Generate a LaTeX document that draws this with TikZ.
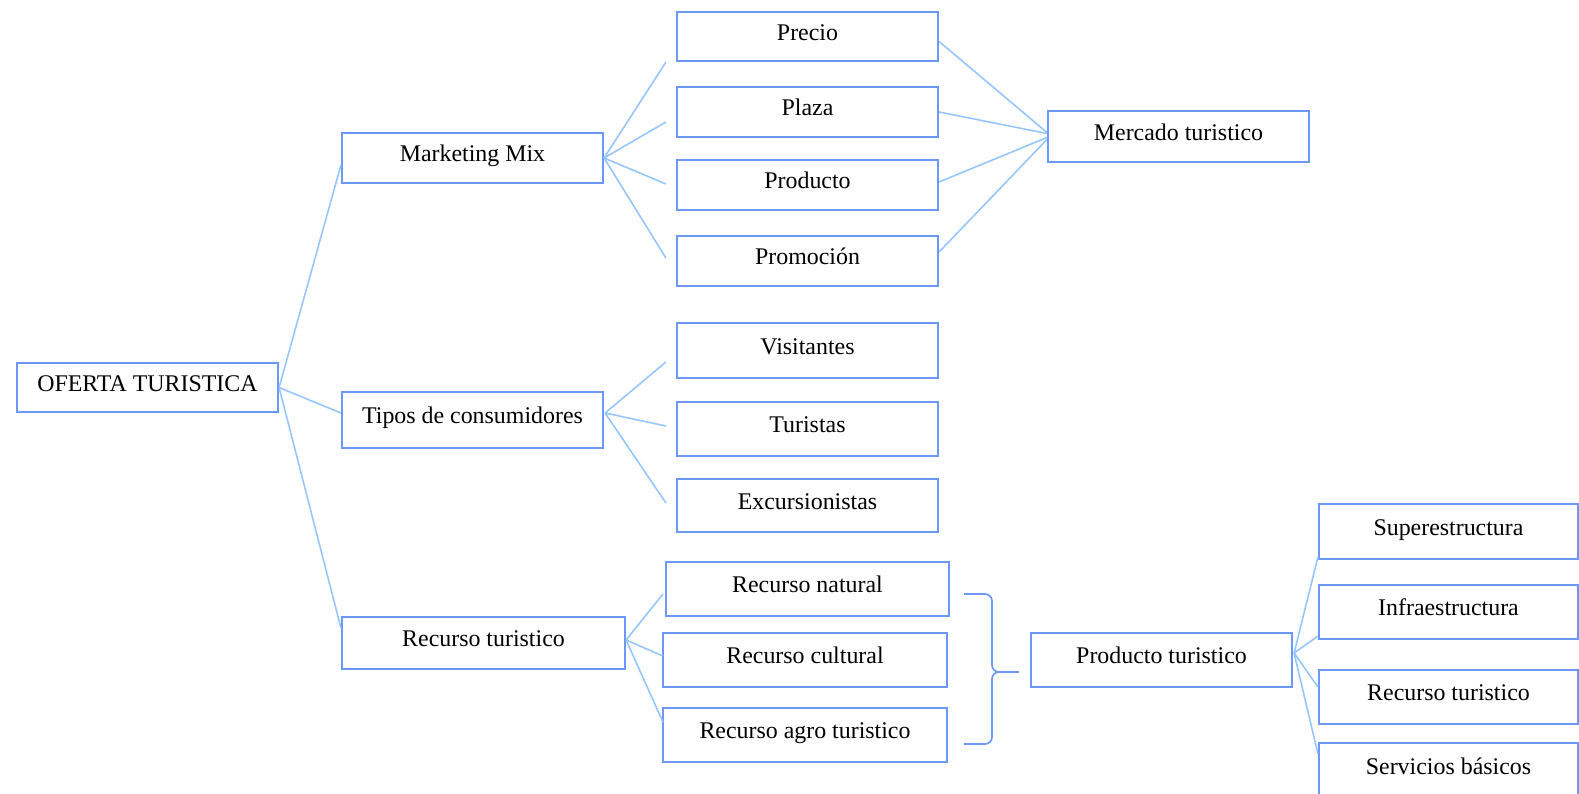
\documentclass[tikz,border=0pt]{standalone}
\usepackage{fontspec}
\setmainfont{Liberation Serif}
\definecolor{boxblue}{RGB}{108,152,250}
\definecolor{linkblue}{RGB}{150,198,255}
\tikzset{
  box/.style={draw=boxblue, line width=1.25pt, fill=white, inner sep=0pt,
    text=black, font=\fontsize{13.6pt}{16pt}\selectfont,
    text height=9pt, text depth=4.5pt},
  link/.style={draw=linkblue, line width=0.9pt},
  bracepath/.style={draw=boxblue, line width=0.95pt, rounded corners=4pt}
}
\begin{document}
\begin{tikzpicture}[x=0.02cm, y=-0.02cm]
\clip (0,0) rectangle (1579,794);
\fill[white] (0,0) rectangle (1579,794);

% root
\node[box, minimum width=5.22cm, minimum height=0.98cm] (oferta) at (147.5,387.5) {OFERTA TURISTICA};

% second level
\node[box, minimum width=5.22cm, minimum height=1.00cm] (mkt) at (472.5,158) {Marketing Mix};
\node[box, minimum width=5.22cm, minimum height=1.12cm] (tipos) at (472.5,420) {Tipos de consumidores};
\node[box, minimum width=5.66cm, minimum height=1.04cm] (rectur) at (483.5,643) {Recurso turistico};

% marketing mix
\node[box, minimum width=5.22cm, minimum height=0.98cm] (precio) at (807.5,36.5) {Precio};
\node[box, minimum width=5.22cm, minimum height=1.00cm] (plaza) at (807.5,112) {Plaza};
\node[box, minimum width=5.22cm, minimum height=1.00cm] (producto) at (807.5,185) {Producto};
\node[box, minimum width=5.22cm, minimum height=1.00cm] (promocion) at (807.5,261) {Promoción};
\node[box, minimum width=5.22cm, minimum height=1.02cm] (mercado) at (1178.5,136.5) {Mercado turistico};

% consumers
\node[box, minimum width=5.22cm, minimum height=1.10cm] (visit) at (807.5,350.5) {Visitantes};
\node[box, minimum width=5.22cm, minimum height=1.08cm] (turis) at (807.5,429) {Turistas};
\node[box, minimum width=5.22cm, minimum height=1.06cm] (excur) at (807.5,505.5) {Excursionistas};

% resources
\node[box, minimum width=5.66cm, minimum height=1.08cm] (natural) at (807.5,589) {Recurso natural};
\node[box, minimum width=5.68cm, minimum height=1.08cm] (cultural) at (805,660) {Recurso cultural};
\node[box, minimum width=5.68cm, minimum height=1.08cm] (agro) at (805,735) {Recurso agro turistico};
\node[box, minimum width=5.22cm, minimum height=1.08cm] (prodtur) at (1161.5,660) {Producto turistico};

% tourist product
\node[box, minimum width=5.18cm, minimum height=1.10cm] (super) at (1448.5,531.5) {Superestructura};
\node[box, minimum width=5.18cm, minimum height=1.08cm] (infra) at (1448.5,612) {Infraestructura};
\node[box, minimum width=5.18cm, minimum height=1.08cm] (rectur2) at (1448.5,697) {Recurso turistico};
\node[box, minimum width=5.18cm, minimum height=1.10cm] (servic) at (1448.5,770.5) {Servicios básicos};

% root connectors
\draw[link] (oferta.east) -- ([shift={(0,7)}]mkt.west);
\draw[link] (oferta.east) -- ([shift={(0,-7)}]tipos.west);
\draw[link] (oferta.east) -- ([shift={(0,-15)}]rectur.west);

% marketing mix connectors
\draw[link] (mkt.east) -- ([shift={(-10,0)}]precio.south west);
\draw[link] (mkt.east) -- ([shift={(-10,10)}]plaza.west);
\draw[link] (mkt.east) -- ([shift={(-10,-1)}]producto.west);
\draw[link] (mkt.east) -- ([shift={(-10,-3)}]promocion.west);

\draw[link] ([shift={(0,5)}]precio.east) -- ([shift={(0,-4)}]mercado.west);
\draw[link] (plaza.east) -- ([shift={(0,-3)}]mercado.west);
\draw[link] ([shift={(0,-3)}]producto.east) -- ([shift={(0,1)}]mercado.west);
\draw[link] ([shift={(0,-9)}]promocion.east) -- ([shift={(0,3)}]mercado.west);

% consumer connectors
\draw[link] ([shift={(1,-7)}]tipos.east) -- ([shift={(-10,11.5)}]visit.west);
\draw[link] ([shift={(1,-7)}]tipos.east) -- ([shift={(-10,-3)}]turis.west);
\draw[link] ([shift={(1,-7)}]tipos.east) -- ([shift={(-10,-2.5)}]excur.west);

% resource connectors
\draw[link] ([shift={(0,-3)}]rectur.east) -- ([shift={(-2,5)}]natural.west);
\draw[link] ([shift={(0,-3)}]rectur.east) -- ([shift={(1,-4)}]cultural.west);
\draw[link] ([shift={(0,-3)}]rectur.east) -- ([shift={(1,-13)}]agro.west);

% brace gathering the resources
\coordinate (btop) at ([shift={(14,5)}]natural.east);
\coordinate (bbot) at ([shift={(16,9)}]agro.east);
\coordinate (btip) at ([shift={(-11,12)}]prodtur.west);
\draw[bracepath] (btop) -- (992,594) -- (992,672) -- (btip);
\draw[bracepath] (bbot) -- (992,744) -- (992,672) -- (btip);

% tourist product connectors
\draw[link] ([shift={(1,-7)}]prodtur.east) -- ([shift={(0,-3)}]super.south west);
\draw[link] ([shift={(1,-7)}]prodtur.east) -- ([shift={(0,-4)}]infra.south west);
\draw[link] ([shift={(1,-7)}]prodtur.east) -- ([shift={(0,-10)}]rectur2.west);
\draw[link] ([shift={(1,-7)}]prodtur.east) -- ([shift={(0,12)}]servic.north west);
\end{tikzpicture}
\end{document}
